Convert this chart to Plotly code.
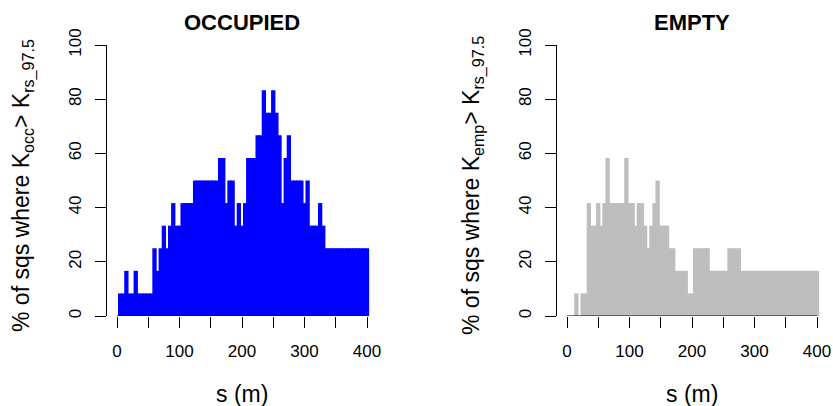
import plotly.graph_objects as go

# distance s (m)
s_m = [0, 5, 10, 15, 20, 25, 30, 35, 40, 45, 50, 55, 60, 65, 70, 75, 80, 85, 90, 95,
       100, 105, 110, 115, 120, 125, 130, 135, 140, 145, 150, 155, 160, 165, 170, 175,
       180, 185, 190, 195, 200, 205, 210, 215, 220, 225, 230, 235, 240, 245, 250, 255,
       260, 265, 270, 275, 280, 285, 290, 295, 300, 305, 310, 315, 320, 325, 330, 335,
       340, 345, 350, 355, 360, 365, 370, 375, 380, 385, 390, 395, 400]

# % of squares where K_occ > K_rs_97.5
occupied_pct = [0, 8.33, 8.33, 16.67, 8.33, 8.33, 16.67, 8.33, 8.33, 8.33,
                8.33, 8.33, 25, 16.67, 25, 33.33, 25, 33.33, 41.67, 33.33,
                33.33, 41.67, 41.67, 41.67, 41.67, 50, 50, 50, 50, 50,
                50, 50, 50, 58.33, 58.33, 41.67, 50, 50, 33.33, 41.67,
                33.33, 41.67, 58.33, 58.33, 58.33, 66.67, 66.67, 83.33, 75, 75,
                83.33, 75, 66.67, 41.67, 58.33, 66.67, 50, 50, 50, 50,
                41.67, 50, 33.33, 33.33, 33.33, 41.67, 33.33, 25, 25, 25,
                25, 25, 25, 25, 25, 25, 25, 25, 25, 25,
                25]

# % of squares where K_emp > K_rs_97.5
empty_pct = [0, 0, 0, 8.33, 0, 8.33, 8.33, 41.67, 33.33, 33.33,
             41.67, 33.33, 41.67, 58.33, 41.67, 41.67, 41.67, 41.67, 41.67, 58.33,
             41.67, 41.67, 33.33, 41.67, 41.67, 33.33, 25, 33.33, 41.67, 50,
             33.33, 33.33, 33.33, 25, 25, 16.67, 16.67, 16.67, 16.67, 8.33,
             8.33, 25, 25, 25, 25, 25, 16.67, 16.67, 16.67, 16.67,
             16.67, 16.67, 25, 25, 25, 25, 16.67, 16.67, 16.67, 16.67,
             16.67, 16.67, 16.67, 16.67, 16.67, 16.67, 16.67, 16.67, 16.67, 16.67,
             16.67, 16.67, 16.67, 16.67, 16.67, 16.67, 16.67, 16.67, 16.67, 16.67,
             16.67]

x_tickvals = [0, 100, 200, 300, 400]
x_ticktext = ["0", "100", "200", "300", "400"]
x_minor_tickvals = [50, 150, 250, 350]
y_tickvals = [0, 20, 40, 60, 80, 100]
y_ticktext = ["0", "20", "40", "60", "80", "100"]

panel_titles = ["OCCUPIED", "EMPTY"]
y_titles = ["% of sqs where K<sub>occ</sub>> K<sub>rs_97.5</sub>",
            "% of sqs where K<sub>emp</sub>> K<sub>rs_97.5</sub>"]
x_title = "s (m)"

W, H = 833, 406
FONT = "Liberation Sans, Arial, sans-serif"
bar_w = 6.9

fig = go.Figure()
fig.add_trace(go.Bar(x=s_m, y=occupied_pct, width=bar_w, marker=dict(color="#0000FF", line=dict(width=0)),
                     xaxis="x", yaxis="y", showlegend=False, hoverinfo="x+y"))
fig.add_trace(go.Bar(x=s_m, y=empty_pct, width=bar_w, marker=dict(color="#BEBEBE", line=dict(width=0)),
                     xaxis="x2", yaxis="y2", showlegend=False, hoverinfo="x+y"))

# pixel geometry of the two plot regions
left_px = [107, 557]
right_px = [377, 827]
top_px, bot_px = 45, 316
xdoms = [[l / W, r / W] for l, r in zip(left_px, right_px)]
ydom = [(H - bot_px) / H, (H - top_px) / H]

xaxis_common = dict(range=[-16, 416], tickmode="array", tickvals=x_tickvals, ticktext=x_ticktext,
                    ticks="outside", ticklen=11, tickwidth=1, tickcolor="black",
                    minor=dict(tickmode="array", tickvals=x_minor_tickvals, ticks="outside",
                               ticklen=11, tickwidth=1, tickcolor="black", showgrid=False),
                    showline=False, showgrid=False, zeroline=False, automargin=False,
                    tickfont=dict(family=FONT, size=17, color="black"),
                    ticklabelstandoff=9, fixedrange=True)
yaxis_common = dict(range=[0, 100], tickvals=y_tickvals, ticktext=y_ticktext,
                    ticks="outside", ticklen=11, tickwidth=1, tickcolor="black",
                    showline=True, linecolor="black", linewidth=1, automargin=False,
                    showgrid=False, zeroline=False, tickangle=-90,
                    tickfont=dict(family=FONT, size=17, color="black"),
                    ticklabelstandoff=7, fixedrange=True)

fig.update_layout(
    width=W, height=H,
    margin=dict(l=0, r=0, t=0, b=0, pad=0),
    paper_bgcolor="white", plot_bgcolor="white",
    barmode="overlay",
    xaxis=dict(domain=xdoms[0], anchor="y", **xaxis_common),
    yaxis=dict(domain=ydom, anchor="x", **yaxis_common),
    xaxis2=dict(domain=xdoms[1], anchor="y2", **xaxis_common),
    yaxis2=dict(domain=ydom, anchor="x2", **yaxis_common),
    font=dict(family=FONT, color="black"),
)

shapes = []
annotations = []
for k, (xr, yr) in enumerate([("x", "y"), ("x2", "y2")]):
    # x axis line from first to last tick (R style)
    shapes.append(dict(type="line", xref=xr, yref=yr, x0=x_tickvals[0], x1=x_tickvals[-1],
                       y0=0, y1=0, line=dict(color="black", width=1), layer="above"))
    cx = (xdoms[k][0] + xdoms[k][1]) / 2
    annotations.append(dict(text="<b>" + panel_titles[k] + "</b>", xref="paper", yref="paper",
                            x=cx, y=(H - 23) / H, xanchor="center", yanchor="middle",
                            showarrow=False, font=dict(family=FONT, size=22, color="black")))
    annotations.append(dict(text=x_title, xref="paper", yref="paper",
                            x=cx, y=(H - 394) / H, xanchor="center", yanchor="middle",
                            showarrow=False, font=dict(family=FONT, size=23, color="black")))
    annotations.append(dict(text=y_titles[k], xref="paper", yref="paper",
                            x=(23 + 450 * k) / W, y=(H - 186) / H, xanchor="center", yanchor="middle",
                            textangle=-90, showarrow=False,
                            font=dict(family=FONT, size=23, color="black")))

fig.update_layout(shapes=shapes, annotations=annotations)
fig.write_html("out.html", config={"displayModeBar": False, "staticPlot": True},
               post_script="document.body.style.margin='0px';document.body.style.overflow='hidden';")
